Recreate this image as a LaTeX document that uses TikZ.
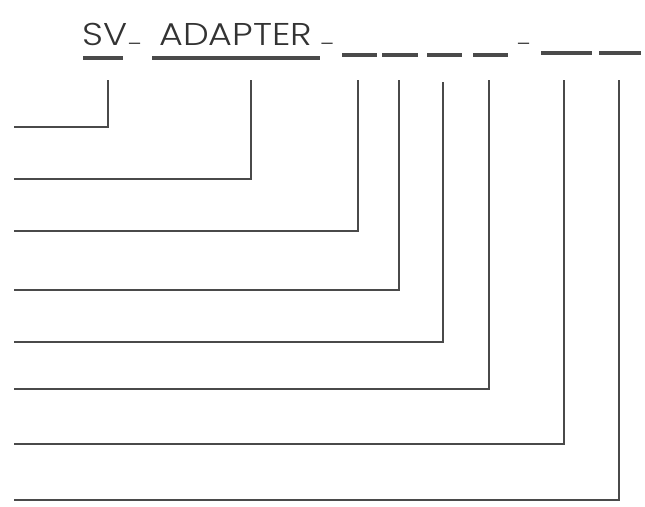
\documentclass[tikz,border=0pt]{standalone}
\usepackage{fontspec}
\setmainfont{Poppins Light}[FakeStretch=1.16]
\definecolor{ink}{HTML}{4A4A4A}
\definecolor{txt}{HTML}{333333}
\tikzset{
  code/.style={anchor=base west, inner sep=0pt, text=txt, font=\fontsize{31.5}{36}\selectfont},
  sep/.style={anchor=center, inner sep=0pt, text=txt, font=\fontsize{19}{22}\selectfont},
  bar/.style={draw=ink, line width=3.5pt},
  lead/.style={draw=ink, line width=2pt}
}
\begin{document}
\begin{tikzpicture}[x=1pt,y=-1pt]
\useasboundingbox (0,0) rectangle (645,506);
% texts
\node[code] (sv) at (82,45) {SV};
\node[code] (ad) at (159,45) {ADAPTER};
% separators
\node[sep] (s1) at (134.5,43) {\_};
\node[sep] (s2) at (327,43) {\_};
\node[sep] (s3) at (523.5,43) {\_};
% bars
\draw[bar] (83,58) -- (123,58);
\draw[bar] (152,58) -- (320,58);
\draw[bar] (342,55) -- (377,55);
\draw[bar] (382,55) -- (418,55);
\draw[bar] (427,55) -- (462,55);
\draw[bar] (473,55) -- (508,55);
\draw[bar] (541,53) -- (592,53);
\draw[bar] (599,53) -- (641,53);
% connector start and end points
\coordinate (b1) at (108,80);
\coordinate (b2) at (251,80);
\coordinate (b3) at (358,80);
\coordinate (b4) at (399,80);
\coordinate (b5) at (443,82);
\coordinate (b6) at (489,80);
\coordinate (b7) at (564,80);
\coordinate (b8) at (619,80);
\coordinate (e1) at (14,127);
\coordinate (e2) at (14,179);
\coordinate (e3) at (14,231);
\coordinate (e4) at (14,290);
\coordinate (e5) at (14,342);
\coordinate (e6) at (14,389);
\coordinate (e7) at (14,444);
\coordinate (e8) at (14,500);
\foreach \i in {1,...,8} {
  \draw[lead] (b\i) |- (e\i);
}
\end{tikzpicture}
\end{document}
